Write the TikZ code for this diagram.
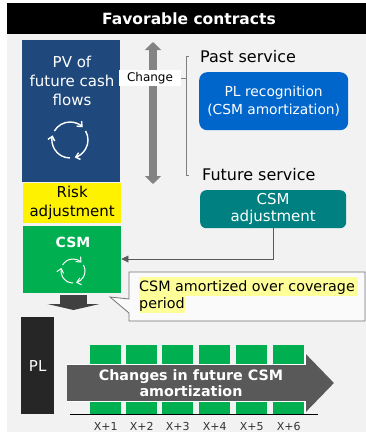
\documentclass[tikz,border=0pt]{standalone}
\usepackage{fontspec}
\setmainfont{DejaVu Sans}
\usetikzlibrary{arrows.meta,positioning,calc}
\definecolor{pvblue}{HTML}{1F497D}
\definecolor{plblue}{HTML}{0066CC}
\definecolor{csmteal}{HTML}{008080}
\definecolor{csmgreen}{HTML}{00AF50}
\definecolor{bggray}{HTML}{F2F2F2}
\definecolor{softyellow}{HTML}{FFFF99}
\definecolor{arrowgray}{HTML}{595959}
\tikzset{
  block/.style = {anchor = north west, inner sep = 0pt, align = center, text = white},
  label/.style = {anchor = west, inner sep = 0pt, font = \fontsize{16}{18}\selectfont},
  yearlabel/.style = {anchor = base, inner sep = 0pt, font = \fontsize{11}{13}\selectfont, text = black!80},
  yearbar/.style = {fill = csmgreen, draw = none, minimum width = 31pt, minimum height = 69pt, inner sep = 0pt, anchor = north west},
}
\newcommand{\cycle}[3]{%
  \foreach \a in {0,120,240} {
    \draw[white, line width = #3, -{Straight Barb[length=4pt,width=7pt]}] ($(#1)+(\a+150:#2)$) arc[start angle = \a+150, end angle = \a+45, radius = #2];
  }
}
\begin{document}
\begin{tikzpicture}[x = 1pt, y = -1pt]
  \useasboundingbox (0,0) rectangle (366,432);
  \fill[bggray] (7,3) rectangle (366,432);
  \node[fill = black, minimum width = 359pt, minimum height = 31pt, inner sep = 0pt, anchor = north west] (title) at (7,3) {};
  \node[text = white, inner sep = 0pt, font = \fontsize{15.5}{18}\selectfont\bfseries] (titletext) at (189,19) {Favorable contracts};

  \node[block, fill = pvblue, minimum width = 98pt, minimum height = 142pt] (pv) at (22,40) {};
  \node[text = white, align = center, inner sep = 0pt, font = \fontsize{15}{19}\selectfont] (pvtext) at (72,81) {PV of\\future cash\\flows};
  \coordinate (pvcycle) at (70,140);
  \cycle{pvcycle}{18pt}{1.4pt}

  \node[block, fill = yellow, text = black, minimum width = 98pt, minimum height = 40pt, font = \fontsize{15}{19}\selectfont] (risk) at (23,183) {Risk\\adjustment};
  \node[block, fill = csmgreen, minimum width = 98pt, minimum height = 67pt] (csm) at (23,226) {};
  \node[text = white, inner sep = 0pt, font = \fontsize{14}{16}\selectfont\bfseries] (csmtext) at (73,242) {CSM};
  \coordinate (csmcycle) at (73,271);
  \cycle{csmcycle}{12pt}{1pt}

  \coordinate (updown1) at (153,42);
  \coordinate (updown2) at (153,184);
  \draw[arrowgray!75, line width = 8pt, {Triangle[width=16pt,length=8pt]}-{Triangle[width=16pt,length=8pt]}] (updown1) -- (updown2);
  \node[fill = white, minimum width = 62pt, minimum height = 16pt, inner sep = 0pt, font = \fontsize{12}{14}\selectfont] (change) at (150,78) {Change};
  \coordinate (brtop) at (189,56);
  \coordinate (brbot) at (189,175);
  \draw[black!50] (brtop) -- (186,56) -- (186,175) -- (brbot);
  \draw[black!50] (change) -- (186,78);

  \node[label] (past) at (200,57) {Past service};
  \node[block, fill = plblue, rounded corners = 8pt, minimum width = 149pt, minimum height = 58pt, font = \fontsize{13.8}{18.5}\selectfont] (plrec) at (199,72) {PL recognition\\(CSM amortization)};
  \node[label] (future) at (202,175) {Future service};
  \node[block, fill = csmteal, rounded corners = 6pt, minimum width = 146pt, minimum height = 38pt, font = \fontsize{15}{17}\selectfont] (csmadj) at (200,190) {CSM\\adjustment};
  \draw[-{Triangle[width=7pt,length=7pt]}, black!65] (csmadj.south) |- (csm.east |- 0,259);

  % callout
  \draw[black!55, line width = .8pt, fill = white!60!bggray] (129,272) -- (365,272) -- (365,321) -- (129,321) -- (129,313) -- (110,297) -- (129,299) -- cycle;
  \fill[softyellow] (139,277) rectangle (358,296);
  \fill[softyellow] (139,296) rectangle (185,313);
  \node[anchor = north west, inner sep = 0pt, align = left, font = \fontsize{14.3}{17.5}\selectfont] (amort) at (139,280) {CSM amortized over coverage\\period};

  \coordinate (down1) at (73.5,295);
  \coordinate (down2) at (73.5,310);
  \draw[black!75, line width = 27pt, -{Triangle[width=52pt,length=6pt]}] (down1) -- (down2);

  \node[block, fill = black!85, minimum width = 33pt, minimum height = 97pt, font = \fontsize{15}{17}\selectfont] (pl) at (21,317) {PL};

  \foreach \n/\px in {1/90,2/126,3/162,4/199,5/236,6/273} {
    \node[yearbar] (bar\n) at (\px,345) {};
    \node[yearlabel] (year\n) at ($(bar\n.north)+(0,85)$) {X+\n};
  }
  \coordinate (axis1) at (70,414);
  \coordinate (axis2) at (318,414);
  \draw[black, line width = 1pt] (axis1) -- (axis2);

  \coordinate (big1) at (67,383);
  \coordinate (big2) at (334,383);
  \draw[white, line width = 38pt, -{Triangle[width=60pt,length=30pt]}] (big1) -- (big2);
  \draw[arrowgray, line width = 36pt, -{Triangle[width=56pt,length=28pt]}] (big1) -- (big2);
  \node[text = white, align = center, inner sep = 0pt, font = \fontsize{14.3}{16.5}\selectfont\bfseries] (bigtext) at (191,383) {Changes in future CSM\\amortization};
\end{tikzpicture}
\end{document}
